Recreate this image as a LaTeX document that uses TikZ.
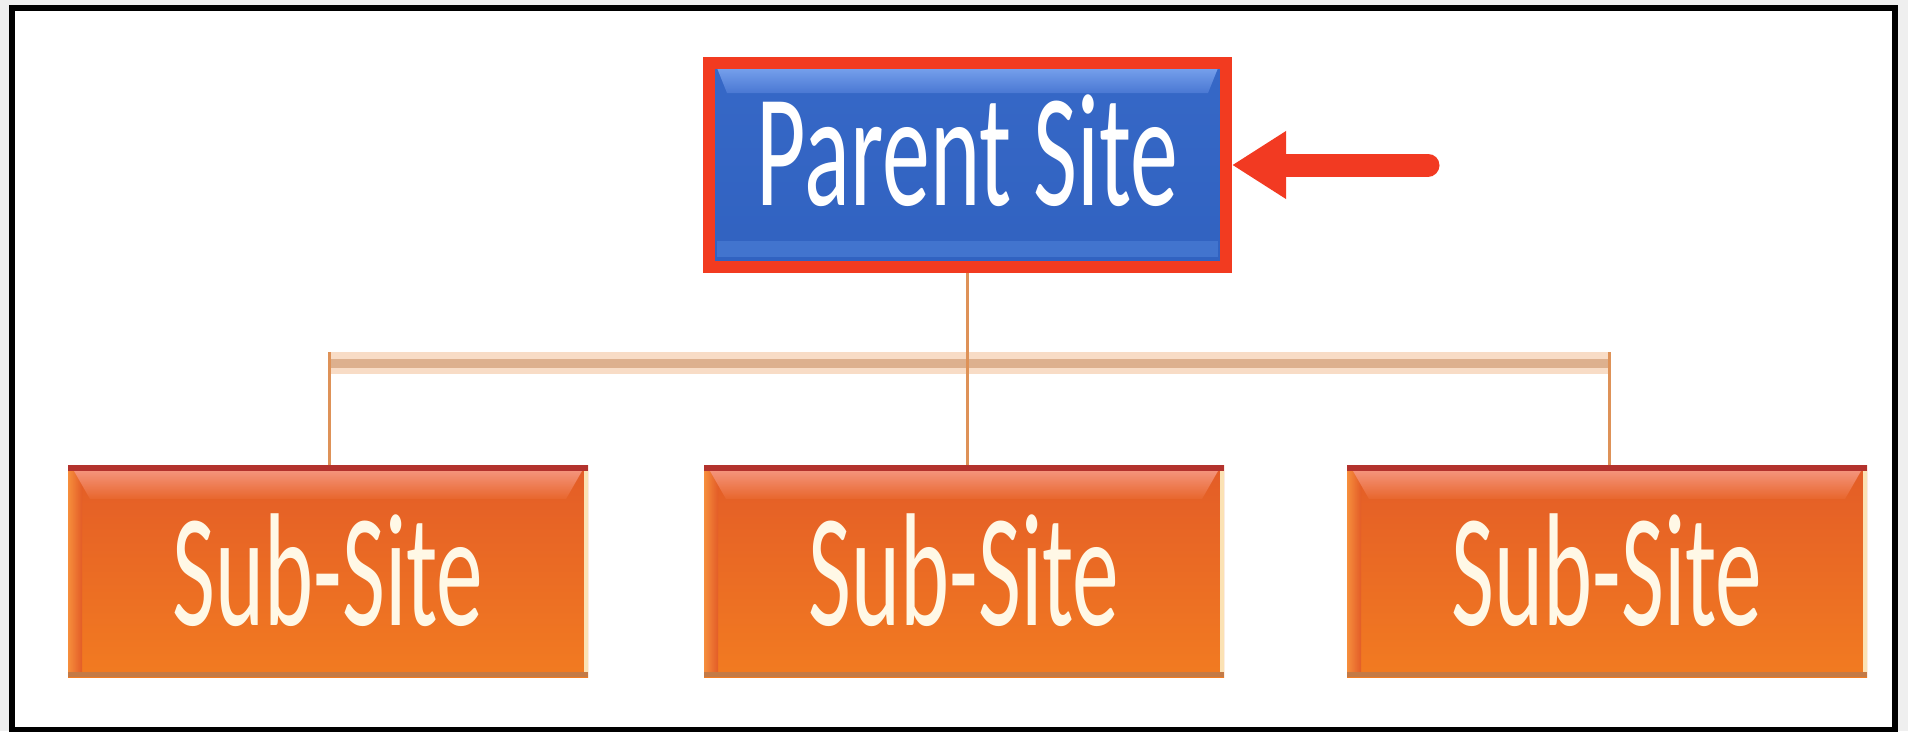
\documentclass[tikz,border=0pt]{standalone}
\usepackage{fontspec}
\usepackage{graphicx}
\setmainfont{Carlito}
\usetikzlibrary{arrows.meta}

\definecolor{pagegray}{HTML}{EFEFEF}
\definecolor{framered}{HTML}{F23B20}
\definecolor{arrowred}{HTML}{F23A22}
\definecolor{blueBody}{HTML}{3668C7}
\definecolor{blueDeep}{HTML}{3162C0}
\definecolor{blueLight}{HTML}{76A0EC}
\definecolor{blueMid}{HTML}{4A78D3}
\definecolor{blueLow}{HTML}{4274CE}
\definecolor{orTop}{HTML}{E35C27}
\definecolor{orBot}{HTML}{F27B21}
\definecolor{orRim}{HTML}{B3322D}
\definecolor{orGlowA}{HTML}{F4937A}
\definecolor{orGlowB}{HTML}{E8662C}
\definecolor{orFoot}{HTML}{C47A46}
\definecolor{orLeft}{HTML}{F68E3C}
\definecolor{orCream}{HTML}{FBE2B4}
\definecolor{subtext}{HTML}{FFF8E6}
\definecolor{linkTan}{HTML}{DE9258}
\definecolor{busHalo}{HTML}{F8DCC6}
\definecolor{busCore}{HTML}{DDB08E}

\newfontfamily\boxfont{Carlito}

\begin{document}
\begin{tikzpicture}[x=1pt,y=-1pt,
  boxtext/.style={font=\boxfont\fontsize{161}{161}\selectfont, inner sep=0pt},
  parentbox/.style={boxtext, text=white, draw=framered, line width=12pt,
    minimum width=517pt, minimum height=204pt,
    text height=102pt, text depth=22pt,
    path picture={
      \coordinate (nw) at (path picture bounding box.north west);
      \coordinate (ne) at (path picture bounding box.north east);
      \coordinate (sw) at (path picture bounding box.south west);
      \coordinate (se) at (path picture bounding box.south east);
      \shade[top color=blueBody, bottom color=blueDeep] (sw) rectangle (ne);
      \shade[top color=blueLight, bottom color=blueMid]
        ([xshift=8pt,yshift=-5pt]nw) -- ([xshift=-8pt,yshift=-5pt]ne)
        -- ([xshift=-18pt,yshift=-30pt]ne) -- ([xshift=18pt,yshift=-30pt]nw) -- cycle;
      \fill[blueLow] ([xshift=8pt,yshift=10pt]sw) rectangle ([xshift=-8pt,yshift=26pt]se);
    }},
  subbox/.style={boxtext, text=subtext,
    minimum width=520pt, minimum height=212pt,
    text height=108pt, text depth=0pt,
    path picture={
      \coordinate (nw) at (path picture bounding box.north west);
      \coordinate (ne) at (path picture bounding box.north east);
      \coordinate (sw) at (path picture bounding box.south west);
      \coordinate (se) at (path picture bounding box.south east);
      \shade[top color=orTop, bottom color=orBot] (sw) rectangle (ne);
      \shade[left color=orLeft, right color=orTop] ([yshift=-6pt]nw) rectangle ([xshift=14pt,yshift=5pt]sw);
      \fill[orCream] ([xshift=-4pt,yshift=-6pt]ne) rectangle ([yshift=5pt]se);
      \shade[top color=orGlowA, bottom color=orGlowB]
        ([xshift=6pt,yshift=-6pt]nw) -- ([xshift=-6pt,yshift=-6pt]ne)
        -- ([xshift=-22pt,yshift=-34pt]ne) -- ([xshift=22pt,yshift=-34pt]nw) -- cycle;
      \fill[orRim] (nw) rectangle ([yshift=-6pt]ne);
      \fill[orFoot] ([yshift=5pt]sw) rectangle (se);
    }},
  link/.style={draw=linkTan, line width=3pt},
  pointer/.style={draw=arrowred, fill=arrowred, line width=23pt, line cap=round,
    -{Triangle[length=54pt,width=64pt]}}
]
\useasboundingbox (0,0) rectangle (1908,731);

% page and frame
\fill[pagegray] (0,0) rectangle (1908,731);
\draw[line width=6pt, fill=white] (12,8) rectangle (1895,730);

% boxes
\node[parentbox] (parent) at (967.5,165) {\scalebox{0.595}[1]{Parent Site}};
\node[subbox] (sub1) at (328,571) {\scalebox{0.58}[1]{Sub-Site}};
\node[subbox] (sub2) at (964,571) {\scalebox{0.58}[1]{Sub-Site}};
\node[subbox] (sub3) at (1607,571) {\scalebox{0.58}[1]{Sub-Site}};

% bus bar joining the children
\coordinate (busL) at (329,363);
\coordinate (busR) at (1609,363);
\draw[busHalo, line width=22pt] (busL) -- (busR);
\draw[busCore, line width=9pt] (busL) -- (busR);

% connectors
\draw[link] (parent.south) -- (parent.south |- sub2.north);
\draw[link] ([yshift=11pt]busL) -- (busL |- sub1.north);
\draw[link] ([yshift=11pt]busR) -- (busR |- sub3.north);

% pointer arrow
\coordinate (atail) at (1428,165);
\draw[pointer] (atail) -- (parent.east);
\end{tikzpicture}
\end{document}
